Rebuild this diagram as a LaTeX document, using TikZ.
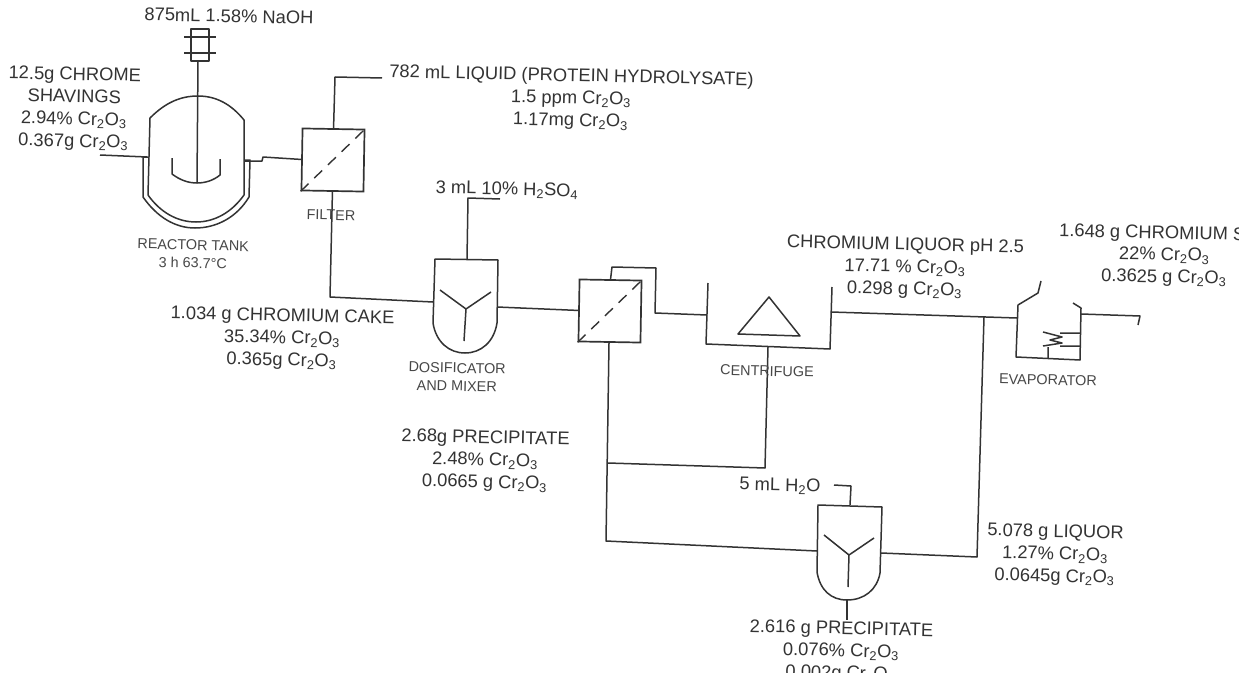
\documentclass[tikz,border=0pt]{standalone}
\usepackage{fontspec}
\setmainfont{Liberation Sans}
\newcommand{\crox}{Cr\textsubscript{2}O\textsubscript{3}}
\tikzset{
  x=1pt,y=-1pt,
  pipe/.style={draw=black!80,line width=1.5pt,line join=round},
  equip/.style={draw=black!80,line width=1.5pt,line join=round},
  label/.style={text=black!80,font=\fontsize{18.3}{22.3}\selectfont,align=center,rotate=-1.3,inner sep=0pt},
  tag/.style={text=black!72,font=\fontsize{14.4}{18}\selectfont,align=center,rotate=-1.3,inner sep=0pt},
  filterbox/.style={draw=black!80,line width=1.7pt,minimum size=62pt,inner sep=0pt,rotate=-1},
  membrane/.style={draw=black!80,line width=1.4pt,dash pattern=on 11pt off 8pt},
}
\begin{document}
\begin{tikzpicture}
\useasboundingbox (0,0) rectangle (1252,682);
\fill[white] (0,0) rectangle (1252,682);
\begin{scope}
\clip (0,0) rectangle (1238,672);

% nodes: equipment
\node[filterbox] (filterA) at (333,160) {};
\node[filterbox] (filterB) at (610,311) {};
\draw[membrane] (filterA.south west) -- (filterA.north east);
\draw[membrane] (filterB.south west) -- (filterB.north east);

% NaOH feed device
\draw[equip] (191,29) rectangle (209,61);
\draw[pipe] (184,37) -- (216,37) (184,53) -- (216,53);
\coordinate (naohBase) at (198,61);
\coordinate (shaftEnd) at (197,183);
\draw[pipe] (naohBase) -- (shaftEnd);

% reactor vessel and jacket
\draw[equip] (148,195) -- (150,118) .. controls (165,103) and (180,96) .. (198,96)
  .. controls (216,96) and (231,104) .. (244,120) -- (244,195)
  .. controls (232,212) and (215,222) .. (196,222) .. controls (177,222) and (160,212) .. (148,195);
\draw[equip] (148,157) -- (143,157) -- (143,197) .. controls (157,217) and (175,228) .. (195,228)
  .. controls (217,228) and (237,217) .. (249,197) -- (250,160) -- (245,160);
\draw[equip] (172,158) -- (172,174) .. controls (180,180) and (188,183) .. (197,183)
  .. controls (206,183) and (214,180) .. (220,175) -- (220,159);

% mixers
\draw[equip] (433,323) -- (435,259) -- (498,260) -- (497,323)
  .. controls (494,342) and (481,353) .. (465,353) .. controls (449,353) and (436,342) .. (433,323);
\draw[pipe] (440,290) -- (466,309) -- (491,292) (466,309) -- (464,341);
\draw[equip] (817,572) -- (818,505) -- (882,507) -- (880,573)
  .. controls (877,590) and (864,600) .. (847,600) .. controls (831,600) and (820,590) .. (817,572);
\draw[pipe] (824,535) -- (849,555) -- (874,538) (849,555) -- (848,587);

% centrifuge
\draw[equip] (708,283) -- (706,344) -- (830,349) -- (832,287);
\draw[equip] (769,297) -- (738,334) -- (800,336) -- cycle;

% evaporator
\draw[equip] (1041,281) -- (1038,293) -- (1018,305) -- (1016,357) -- (1080,360) -- (1081,308) -- (1073,303);
\draw[pipe] (1060,333) -- (1080,333) (1060,346) -- (1080,346)
  (1048,347) -- (1048,358) (1043,332) -- (1062,337) -- (1050,340) -- (1062,343) -- (1043,346);

% named ports
\coordinate (chromeFeed) at (100,155);
\coordinate (reactorIn) at (147,157);
\coordinate (reactorOut) at (245,161);
\coordinate (liquidEnd) at (382,78);
\coordinate (cakeBend) at (330,297);
\coordinate (mixerAin) at (433,302);
\coordinate (mixerAout) at (497,307);
\coordinate (acidEnd) at (500,199);
\coordinate (mixerAtop) at (467,259);
\coordinate (centIn) at (707,315);
\coordinate (centOut) at (831,312);
\coordinate (centBase) at (768,347);
\coordinate (evapIn) at (1017,318);
\coordinate (evapOut) at (1081,314);
\coordinate (prodEnd) at (1138,325);
\coordinate (junctionTop) at (984,317);
\coordinate (mixerBright) at (881,553);
\coordinate (mixerBleft) at (817,551);
\coordinate (mixerBtop) at (850,505);
\coordinate (waterEnd) at (834,485);
\coordinate (mixerBbase) at (847,600);
\coordinate (precipEnd) at (847,620);
\coordinate (recycleJoin) at (608,463);
\coordinate (filterBbase) at (609,343);

% connectors
\draw[pipe] (chromeFeed) -- (reactorIn);
\draw[pipe] (reactorOut) -- (262,161) -- (263,157) -- (filterA.west);
\draw[pipe] (filterA.north) -- (335,77) -- (liquidEnd);
\draw[pipe] (filterA.south) -- (cakeBend) -- (mixerAin);
\draw[pipe] (mixerAtop) -- (468,198) -- (acidEnd);
\draw[pipe] (mixerAout) -- (filterB.west);
\draw[pipe] (filterB.north) -- (612,267) -- (656,268) -- (655,313) -- (centIn);
\draw[pipe] (centOut) -- (evapIn);
\draw[pipe] (evapOut) -- (1140,316) -- (prodEnd);
\draw[pipe] (junctionTop) -- (977,557) -- (mixerBright);
\draw[pipe] (filterBbase) -- (606,541) -- (mixerBleft);
\draw[pipe] (centBase) -- (765,468) -- (recycleJoin);
\draw[pipe] (mixerBtop) -- (851,486) -- (waterEnd);
\draw[pipe] (mixerBbase) -- (precipEnd);

% labels
\node[label] (tNaoh) at (229,16) {875mL 1.58\% NaOH};
\node[label] (tChrome) at (74,109) {12.5g CHROME\\SHAVINGS\\2.94\% \crox\\0.367g \crox};
\node[label] (tLiquid) at (571,99) {782 mL LIQUID (PROTEIN HYDROLYSATE)\\1.5 ppm \crox\\1.17mg \crox};
\node[label] (tAcid) at (507,190) {3 mL 10\% H\textsubscript{2}SO\textsubscript{4}};
\node[label] (tLiquor) at (905,268) {CHROMIUM LIQUOR pH 2.5\\17.71 \% \crox\\0.298 g \crox};
\node[label,anchor=west] (tSulfate) at (1059,232) {1.648 g CHROMIUM S};
\node[label] (tSulfateB) at (1164,267) {22\% \crox\\0.3625 g \crox};
\node[label] (tCake) at (282,339) {1.034 g CHROMIUM CAKE\\35.34\% \crox\\0.365g \crox};
\node[label] (tPrecA) at (485,461) {2.68g PRECIPITATE\\2.48\% \crox\\0.0665 g \crox};
\node[label] (tWater) at (780,486) {5 mL H\textsubscript{2}O};
\node[label] (tLiqB) at (1055,555) {5.078 g LIQUOR\\1.27\% \crox\\0.0645g \crox};
\node[label] (tPrecB) at (841,652) {2.616 g PRECIPITATE\\0.076\% \crox\\0.002g \crox};

\node[tag] (tReactor) at (193,254) {REACTOR TANK\\3 h 63.7°C};
\node[tag] (tFilter) at (331,215) {FILTER};
\node[tag] (tDos) at (457,377) {DOSIFICATOR\\AND MIXER};
\node[tag] (tCent) at (767,371) {CENTRIFUGE};
\node[tag] (tEvap) at (1048,380) {EVAPORATOR};
\end{scope}
\end{tikzpicture}
\end{document}
